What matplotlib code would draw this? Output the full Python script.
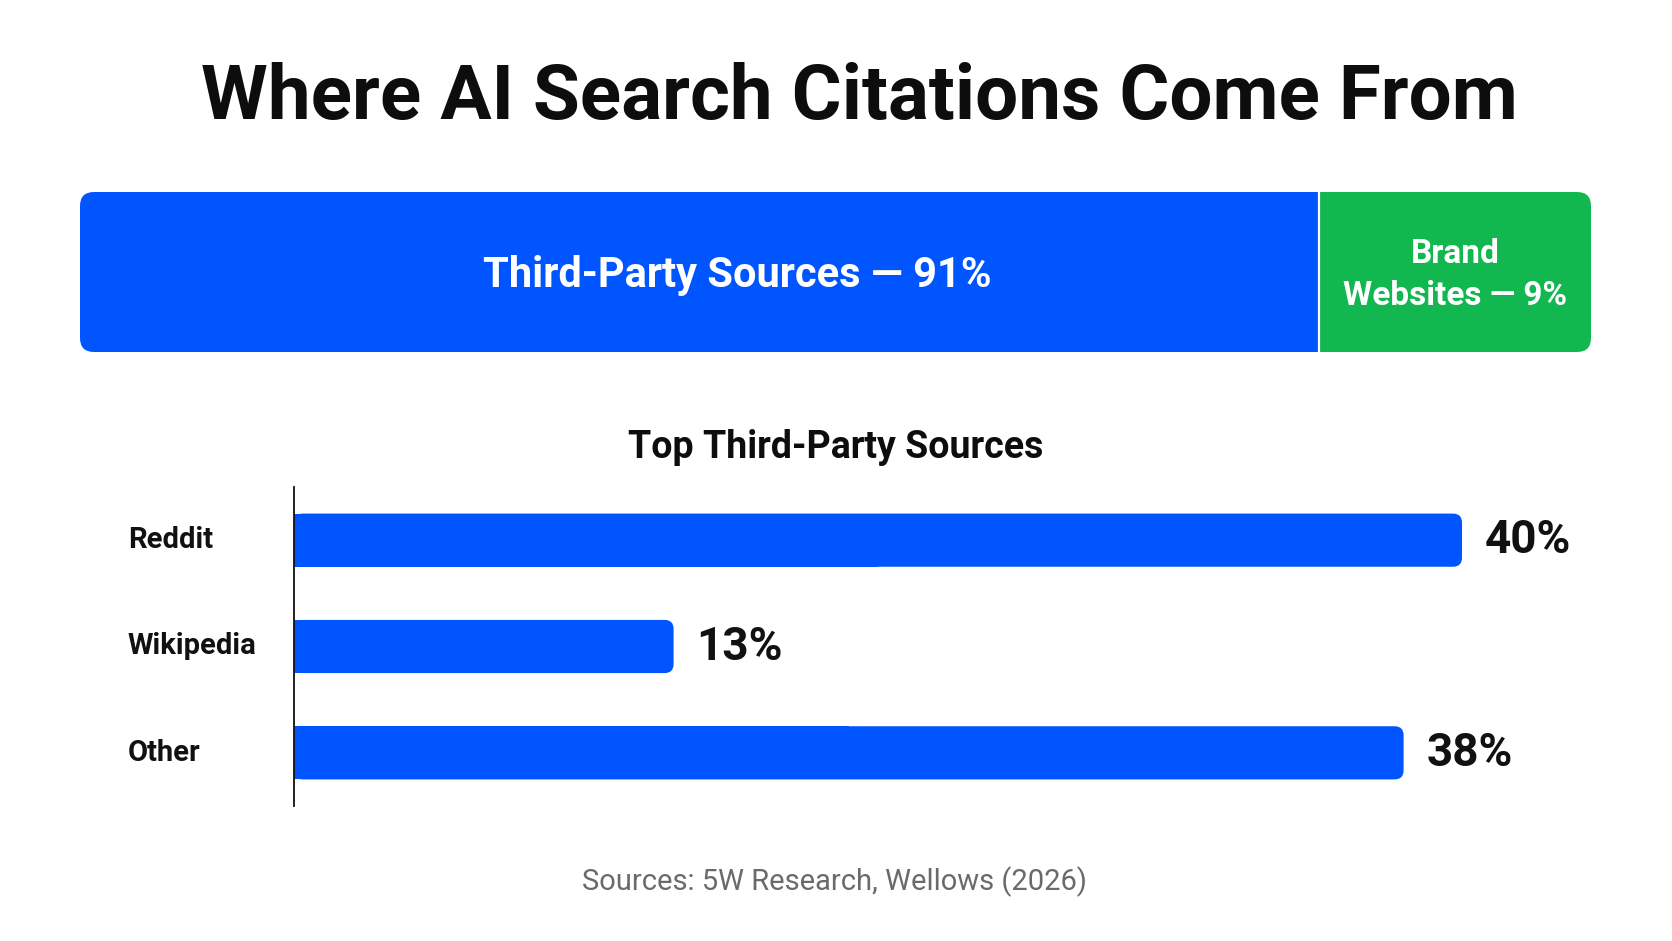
import matplotlib.pyplot as plt
from matplotlib.patches import FancyBboxPatch, Rectangle
from matplotlib import transforms

# data
split_labels = ['Third-Party Sources', 'Brand Websites']
split_values = [91, 9]
split_colors = ['#0055FF', '#12B84F']

sources = ['Reddit', 'Wikipedia', 'Other']
source_values = [40, 13, 38]

title = 'Where AI Search Citations Come From'
subtitle = 'Top Third-Party Sources'
footnote = 'Sources: 5W Research, Wellows (2026)'

BLUE = '#0055FF'
W, H = 1672, 941
plt.rcParams['font.family'] = ['Roboto', 'DejaVu Sans']

fig = plt.figure(figsize=(W / 100, H / 100), dpi=100)
fig.patch.set_facecolor('white')


def px_box(left, top, right, bottom):
    return [left / W, 1 - bottom / H, (right - left) / W, (bottom - top) / H]


# title
fig.text(859 / W, 1 - 119 / H, title, ha='center', va='baseline',
         fontsize=55, fontweight='bold', color='#0d0d0d')

# ---- split bar (small share gets a minimum width so the label fits) ----
ax1 = fig.add_axes(px_box(80, 192, 1591, 352))
ax1.set_xlim(0, 100)
ax1.set_ylim(0, 1)
ax1.axis('off')

min_share = 18
shown = [max(v, min_share) for v in split_values]
shown[0] = 100 - sum(shown[1:])
xpx = 1511 / 100
ypx = 160
r = 14 / xpx
asp = (1 / ypx) / (1 / xpx)

left = 0
for i, (w, c) in enumerate(zip(shown, split_colors)):
    ax1.add_patch(FancyBboxPatch((left, 0), w, 1,
                                 boxstyle=f'round,pad=0,rounding_size={r}',
                                 mutation_aspect=asp, fc=c, ec='none'))
    # square off the inner edges
    if i > 0:
        ax1.add_patch(Rectangle((left, 0), w / 2, 1, fc=c, ec='none'))
    if i < len(shown) - 1:
        ax1.add_patch(Rectangle((left + w / 2, 0), w / 2, 1, fc=c, ec='none'))
        ax1.plot([left + w, left + w], [0, 1], color='white', lw=1.6)
    left += w

ax1.text(43.5, 0.406, f'{split_labels[0]} — {split_values[0]}%', ha='center',
         va='baseline', color='white', fontsize=30, fontweight='bold')
gx = shown[0] + shown[1] / 2
brand_words = split_labels[1].split(' ')
ax1.text(gx, 0.556, brand_words[0], ha='center', va='baseline',
         color='white', fontsize=24, fontweight='bold')
ax1.text(gx, 0.294, f'{brand_words[1]} — {split_values[1]}%', ha='center',
         va='baseline', color='white', fontsize=24, fontweight='bold')

# ---- subtitle ----
fig.text(836 / W, 1 - 458 / H, subtitle, ha='center', va='baseline',
         fontsize=27, fontweight='bold', color='#0d0d0d')

# ---- horizontal bars ----
ax2 = fig.add_axes(px_box(294, 487, 1590, 806))
xmax = 1296 * 40 / 1168
ax2.set_xlim(0, xmax)
ax2.set_ylim(len(sources) - 0.5, -0.5)
for s in ['top', 'right', 'bottom']:
    ax2.spines[s].set_visible(False)
ax2.spines['left'].set_linewidth(1.3)
ax2.spines['left'].set_color('#111111')
ax2.set_xticks([])
ax2.set_yticks([])
ax2.patch.set_alpha(0)

bh = 0.5
bx = 1296 / xmax
by = 319 / len(sources)
r2 = 9 / bx
asp2 = (1 / by) / (1 / bx)
lab_tr = transforms.blended_transform_factory(fig.transFigure, ax2.transData)
for i, (name, v) in enumerate(zip(sources, source_values)):
    ax2.add_patch(FancyBboxPatch((0, i - bh / 2), v, bh,
                                 boxstyle=f'round,pad=0,rounding_size={r2}',
                                 mutation_aspect=asp2, fc=BLUE, ec='none'))
    ax2.add_patch(Rectangle((0, i - bh / 2), v / 2, bh, fc=BLUE, ec='none'))
    ax2.annotate(f'{v}%', (v, i), xytext=(16.5, 0), textcoords='offset points',
                 ha='left', va='center', fontsize=33, fontweight='bold',
                 color='#111111')
    ax2.text(128 / W, i, name, transform=lab_tr, ha='left', va='center',
             fontsize=21, fontweight='bold', color='#111111')

# footnote
fig.text(835 / W, 1 - 890 / H, footnote, ha='center', va='baseline',
         fontsize=21, color='#6a6a6a')

fig.savefig('out.png', dpi=100, facecolor='white')
